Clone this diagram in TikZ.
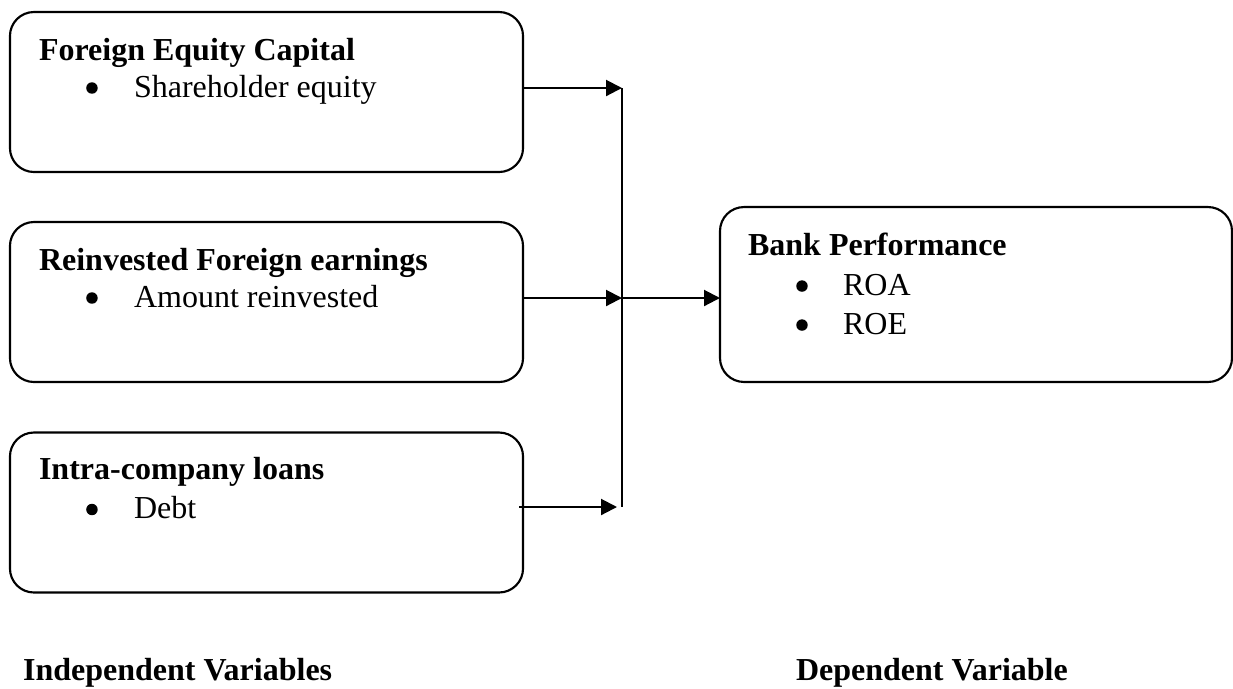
\documentclass[tikz,border=0pt]{standalone}
\usepackage{fontspec}
\setmainfont{Liberation Serif}
\usetikzlibrary{arrows.meta, calc}

\begin{document}
\begin{tikzpicture}[
  x=0.375pt, y=-0.375pt, line width=0.8pt,
  >={Triangle[length=6pt, width=6pt]},
  font=\fontsize{12pt}{14pt}\selectfont,
  box/.style={draw, rounded corners=9pt, outer sep=0pt,
              minimum width=192.4pt, minimum height=60pt},
  head/.style={anchor=base west, inner sep=0pt, font=\fontsize{12pt}{14pt}\selectfont\bfseries},
  dot/.style={circle, fill, inner sep=0pt, minimum size=4.3pt},
  item/.style={anchor=base west, inner sep=0pt}]
  \useasboundingbox (0,0) rectangle (1233,688);
  % boxes
  \node[box] (fec) at (266.5,92) {};
  \node[box] (rfe) at (266.5,302) {};
  \node[box] (icl) at (266.5,512.5) {};
  \node[box, minimum width=192pt, minimum height=65.6pt] (perf) at (976,294.5) {};
  % box texts
  \node[head] (fec-head) at ($(fec.north west)+(28,48)$) {Foreign Equity Capital};
  \node[dot] (fec-dot) at ($(fec.north west)+(82,76)$) {};
  \node[item] (fec-item) at ($(fec.north west)+(123,85)$) {Shareholder equity};
  \node[head] (rfe-head) at ($(rfe.north west)+(28,48)$) {Reinvested Foreign earnings};
  \node[dot] (rfe-dot) at ($(rfe.north west)+(82,76)$) {};
  \node[item] (rfe-item) at ($(rfe.north west)+(123,85)$) {Amount reinvested};
  \node[head] (icl-head) at ($(icl.north west)+(28,47)$) {Intra-company loans};
  \node[dot] (icl-dot) at ($(icl.north west)+(82,77)$) {};
  \node[item] (icl-item) at ($(icl.north west)+(123,86)$) {Debt};
  \node[head] (perf-head) at ($(perf.north west)+(27,48)$) {Bank Performance};
  \node[dot] (roa-dot) at ($(perf.north west)+(82,79)$) {};
  \node[item] (roa) at ($(perf.north west)+(122,88)$) {ROA};
  \node[dot] (roe-dot) at ($(perf.north west)+(82,118)$) {};
  \node[item] (roe) at ($(perf.north west)+(122,127)$) {ROE};
  % captions
  \node[head] (indep) at (22,680) {Independent Variables};
  \node[head] (dep) at (795,680) {Dependent Variable};
  % connectors
  \coordinate (bus-top) at (622,88);
  \coordinate (bus-mid) at (622,298);
  \coordinate (bus-bot) at (622,507);
  \draw (bus-top) -- (bus-bot);
  \draw[->] (fec.east |- bus-top) -- (bus-top);
  \draw[->] (rfe.east |- bus-mid) -- (bus-mid);
  \draw[->] (bus-mid) -- (perf.west |- bus-mid);
  \draw[->] ($(icl.east |- bus-bot)+(-4,0)$) -- ($(bus-bot)+(-5,0)$);
\end{tikzpicture}
\end{document}
